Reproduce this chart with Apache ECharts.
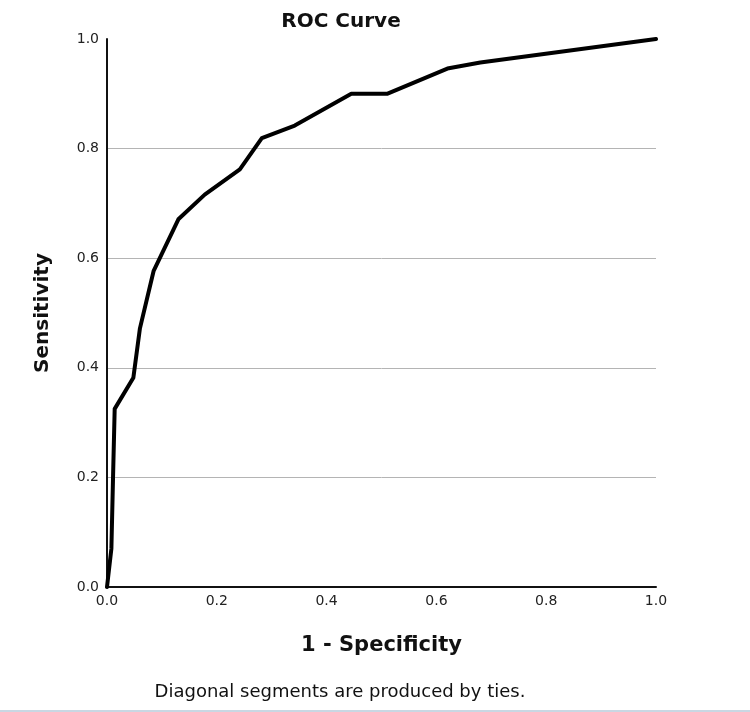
<!DOCTYPE html>
<html>
<head>
<meta charset="utf-8">
<script src="https://cdn.jsdelivr.net/npm/echarts@6/dist/echarts.min.js"></script>
<style>
  html, body { margin: 0; padding: 0; background: #fff; }
  #roc { width: 750px; height: 712px; box-sizing: border-box; border-bottom: 2px solid #c9d7e3; }
</style>
</head>
<body>
<div id="roc"></div>
<script>
// ROC points
var fpr = [0, 0.008, 0.011, 0.014, 0.048, 0.06, 0.085, 0.13, 0.178, 0.242, 0.282, 0.342, 0.445, 0.51, 0.62, 0.68, 1.0];
var tpr = [0, 0.07, 0.2, 0.325, 0.382, 0.472, 0.577, 0.671, 0.716, 0.762, 0.819, 0.842, 0.9, 0.9, 0.946, 0.957, 1.0];
var tickStep = 0.2;

var font = "DejaVu Sans";
var chart = echarts.init(document.getElementById("roc"));

var option = {
  backgroundColor: "#fff",
  animation: false,
  title: [
    {
      text: "ROC Curve",
      left: 336,
      top: 7,
      textAlign: "center",
      textStyle: { fontFamily: font, fontSize: 20, fontWeight: "bold", color: "#111" }
    },
    {
      text: "Diagonal segments are produced by ties.",
      left: 335,
      top: 678,
      textAlign: "center",
      textStyle: { fontFamily: font, fontSize: 18, fontWeight: "normal", color: "#111" }
    }
  ],
  grid: { left: 107, right: 94, top: 39, bottom: 123 },
  xAxis: {
    type: "value",
    min: 0,
    max: 1,
    interval: tickStep,
    name: "1 - Specificity",
    nameLocation: "middle",
    nameGap: 48,
    nameTextStyle: { fontFamily: font, fontSize: 21, fontWeight: "bold", color: "#111" },
    axisLine: { lineStyle: { color: "#111", width: 2 } },
    axisTick: { show: false },
    splitLine: { show: false },
    axisLabel: {
      margin: 7,
      fontFamily: font,
      fontSize: 14,
      color: "#222",
      formatter: function (v) { return v.toFixed(1); }
    }
  },
  yAxis: {
    type: "value",
    min: 0,
    max: 1,
    interval: tickStep,
    name: "Sensitivity",
    nameLocation: "middle",
    nameGap: 54,
    nameTextStyle: { fontFamily: font, fontSize: 20, fontWeight: "bold", color: "#111" },
    axisLine: { show: true, lineStyle: { color: "#111", width: 2 } },
    axisTick: { show: false },
    splitLine: {
      show: true,
      lineStyle: {
        color: ["rgba(0,0,0,0)", "#b4b4b4", "#b4b4b4", "#b4b4b4", "#b4b4b4", "rgba(0,0,0,0)"],
        width: 1
      }
    },
    axisLabel: {
      margin: 8,
      fontFamily: font,
      fontSize: 14,
      color: "#222",
      formatter: function (v) { return v.toFixed(1); }
    }
  },
  series: [
    {
      type: "line",
      data: fpr.map(function (x, i) { return [x, tpr[i]]; }),
      showSymbol: false,
      symbol: "none",
      lineStyle: { color: "#000", width: 4, join: "round", cap: "round" }
    }
  ]
};

chart.setOption(option);
</script>
</body>
</html>
